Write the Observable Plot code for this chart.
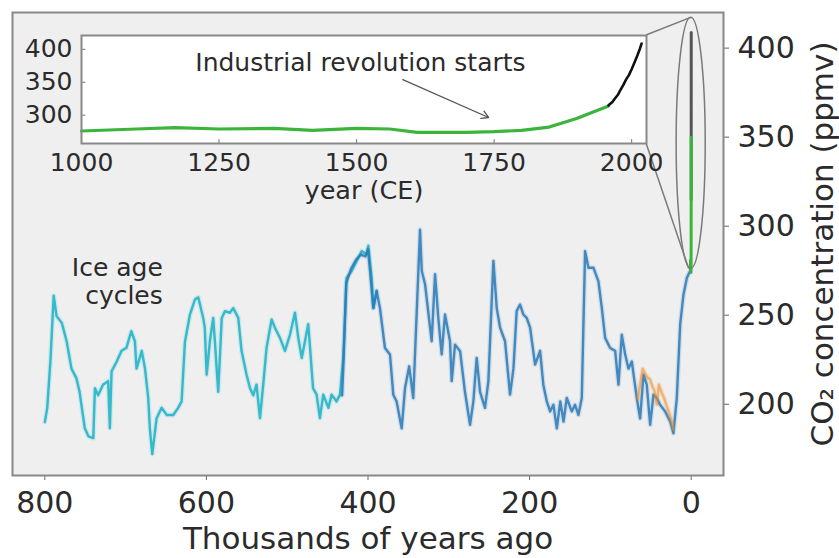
<!DOCTYPE html>
<html><head><meta charset="utf-8">
<script src="https://cdn.jsdelivr.net/npm/d3@7"></script>
<script src="https://cdn.jsdelivr.net/npm/@observablehq/plot@0.6"></script>
<style>
body{margin:0;background:#fff;}
#wrap{position:relative;width:839px;height:558px;}
#wrap svg{position:absolute;left:0;top:0;}
</style></head><body><div id="wrap"></div>
<script>
// ---- Data ----
// Ice core series, thousands of years ago vs CO2 (ppmv)
const cyanKa  = [800,797,793,789,785.5,779,773,767,761,757,750.5,746,740,738,734,728,721.6,719.5,717.4,711,705,699,693,688.5,686.5,680,676,672,670,667,661.7,655.5,649,641,635,630.7,626.6,620.4,614,610,604,602,599.7,595.7,591.6,589.5,585.4,581,577,571,566.8,560.6,556.5,550.3,546,542,538,533.7,529.7,525.6,519.3,515.2,509,502.8,496.6,490.4,486.3,482,478,474,472,468,463.6,459.5,455.4,449,445,439,434.7,430.6,426.5,420.2,414,407.8,401.7,399.6,395.5,393.4,389.3];
const cyanPpm = [190,198,225,261,249.5,245.7,235.4,220,214.7,207,186.5,182,181,209,205,211,213,186.5,218.5,224,230,231.7,241,235.4,220,230,220,203.5,186.5,172,192,198,194,194,198,201.6,235,250.4,259,260,248.5,243,216.6,235.4,248.5,235.4,207,248.5,252.3,251.4,254,248.5,230,216.6,209,205,211,192.2,211,231.6,247.6,243,237.3,230,239,251.4,237.3,226,235.4,245,233.5,209,205.4,192.2,205.4,198,205.4,201.6,205.4,226,271,274.9,280.5,286,284.3,289,271,254,263.6];

const blueKa  = [432,430,427,421,415,409,403,400,397.5,393.4,389.3,385.2,379,372.8,368.7,364.6,358.3,354.2,349,344,340,335.6,333.5,329.4,321.2,317,313,308.8,304.7,298.5,296.4,292.3,286,280,273.7,269.6,265.5,261.3,255.2,251,244.8,240.7,236.5,230.4,224.2,220,216,211.8,207.7,203.6,199.4,193.2,187,183,178.7,174.6,170.5,166.3,162,158,154,147.8,143.7,139.6,135.4,131.3,127.2,121,114.8,110.6,106.5,100.3,94.1,90,85.9,81.7,77.6,73.5,67.3,63.2,59,55,50.8,46.7,42.6,38.5,32.3,26,22,17.8,13.6,9.5,5.3,1.2];
const bluePpm = [205,228,268,276,281,284,283,287,275,254,263.6,254,231.6,227.9,205.4,201.6,186.5,209,221.3,203.5,248.5,298,275,267.4,235.4,273,248.5,228,250.4,235.4,213,233.5,229.8,207,188.5,201.6,226,207,198,213,280.5,254,243,235.4,205.4,220,252.3,256,250.4,248.5,243,222.3,230,211,201.6,196,199.7,186.5,201.6,190.3,203.5,196,199.7,194,203.5,286,276.7,276.7,269,254,237.3,231.6,230,211,239,227.9,220,224,203.5,192,216.6,211,188.5,205.4,203.5,199.7,196,190.3,183.7,203.5,245,261.7,271,275];

const orangeKa  = [66,63,60,57,54,51,48,45,42.5,40,37,34,31,28,25,22];
const orangePpm = [203,212,220,217,215,214,210,207,200,211,207,204,200,196,192,186];

// Law Dome (green) and Mauna Loa (black), year CE vs CO2 (ppmv)
const lawYear = [1000,1100,1170,1250,1350,1420,1500,1560,1610,1700,1750,1800,1850,1900,1958,1975,1988];
const lawPpm  = [276,279,281,279,280,277,280,279,274,274,275,277,282,295,314,331,350];
const maunaYear = [1958,1965,1970,1975,1980,1985,1990,1995,2000,2005,2010,2015,2018];
const maunaPpm  = [315,320,325.7,331,338.7,346,354.4,360.8,369.7,379.8,389.9,401,408.7];

const mainXTicks = [800,600,400,200,0];
const mainYTicks = [200,250,300,350,400];
const insetXTicks = [1000,1250,1500,1750,2000];
const insetYTicks = [300,350,400];

// ---- Tables ----
const zip = (xs, ys, kx, ky) => xs.map((v, i) => ({[kx]: v, [ky]: ys[i]}));
const cyan = zip(cyanKa, cyanPpm, "ka", "ppm");
const blue = zip(blueKa, bluePpm, "ka", "ppm");
const orange = zip(orangeKa, orangePpm, "ka", "ppm");
const law = zip(lawYear, lawPpm, "year", "ppm");
const mauna = zip(maunaYear, maunaPpm, "year", "ppm");
const toKa = d => ({ka: (1950 - d.year) / 1000, ppm: d.ppm});

const FONT = "DejaVu Sans";
const TXT = "#2b2b2b";
const plain = d => String(d);

// soft halo under each ice-core line + the line itself
const haloLine = (data, color, opacity) => [
  Plot.line(data, {x: "ka", y: "ppm", stroke: color, strokeWidth: 5, strokeOpacity: 0.15}),
  Plot.line(data, {x: "ka", y: "ppm", stroke: color, strokeWidth: 2.4, strokeOpacity: opacity})
];

const main = Plot.plot({
  width: 839, height: 558,
  marginLeft: 12, marginRight: 116, marginTop: 12, marginBottom: 83,
  style: {fontFamily: FONT, background: "white", color: TXT, overflow: "visible"},
  x: {domain: [840, -40], label: null},
  y: {domain: [160, 420], label: null},
  marks: [
    Plot.frame({fill: "#efefef"}),
    ...haloLine(cyan, "#22b5c8", 0.9),
    ...haloLine(blue, "#2a7ab8", 0.85),
    ...haloLine(orange, "#f08a2a", 0.55),
    Plot.line(mauna.map(toKa), {x: "ka", y: "ppm", stroke: "#555", strokeWidth: 3}),
    Plot.line(law.map(toKa), {x: "ka", y: "ppm", stroke: "#3cb43c", strokeWidth: 3}),
    Plot.text([{ka: 654, ppm: 269, t: "Ice age\ncycles"}], {x: "ka", y: "ppm", text: "t", textAnchor: "end", lineHeight: 1.12, fontSize: 25, fill: TXT}),
    Plot.axisX({ticks: mainXTicks, tickFormat: plain, tickSize: 5, tickPadding: 11, fontSize: 30, label: null, stroke: "#666"}),
    Plot.axisY({anchor: "right", ticks: mainYTicks, tickFormat: plain, tickSize: 5, tickPadding: 9, fontSize: 30, label: null, stroke: "#666"}),
    Plot.text(["Thousands of years ago"], {frameAnchor: "bottom", dy: 73, fontSize: 31, fill: TXT}),
    Plot.text(["CO₂ concentration (ppmv)"], {frameAnchor: "right", textAnchor: "middle", dx: 100, rotate: -90, fontSize: 31, fill: TXT}),
    Plot.frame({stroke: "#888", strokeWidth: 2})
  ]
});

const inset = Plot.plot({
  width: 700, height: 210,
  marginLeft: 81, marginTop: 35, marginRight: 54, marginBottom: 67,
  style: {fontFamily: FONT, background: "transparent", color: TXT, overflow: "visible"},
  x: {domain: [1000, 2027], label: null},
  y: {domain: [257, 421], label: null},
  marks: [
    Plot.frame({fill: "white"}),
    Plot.line(law.filter(d => d.year <= 1958), {x: "year", y: "ppm", stroke: "#3cb43c", strokeWidth: 3.2}),
    Plot.line(mauna, {x: "year", y: "ppm", stroke: "#111", strokeWidth: 2.6}),
    Plot.ruleY(insetYTicks, {x1: 1000, x2: 1008, stroke: "#777"}),
    Plot.ruleX(insetXTicks.slice(1), {y1: 257, y2: 263, stroke: "#777"}),
    Plot.axisX({ticks: insetXTicks, tickFormat: plain, tickSize: 0, tickPadding: 10, fontSize: 25, label: null}),
    Plot.axisY({ticks: insetYTicks, tickFormat: plain, tickSize: 0, tickPadding: 9, fontSize: 25, label: null}),
    Plot.text(["year (CE)"], {frameAnchor: "bottom", dy: 55, fontSize: 25.5, fill: TXT}),
    Plot.arrow([{x1: 1584, y1: 354, x2: 1740, y2: 296.5}], {x1: "x1", y1: "y1", x2: "x2", y2: "y2", stroke: "#555", strokeWidth: 1.3, headLength: 9}),
    Plot.text([{year: 1507, ppm: 380, t: "Industrial revolution starts"}], {x: "year", y: "ppm", text: "t", fontSize: 25, fill: TXT}),
    Plot.frame({stroke: "#888", strokeWidth: 2})
  ]
});

// ---- Zoom ellipse and connectors, positioned through the scales ----
function sc(plot, name) {
  const s = plot.scale(name);
  if (s.apply) return v => s.apply(v);
  return d3.scaleLinear(s.domain, s.range);
}
const mx = sc(main, "x"), my = sc(main, "y");
const ix = sc(inset, "x"), iy = sc(inset, "y");
const ell = {ka: 0, top: 417, bottom: 276, halfWidth: 18};
const cx = mx(ell.ka), rx = Math.abs(mx(ell.halfWidth) - mx(0));
const ty = my(ell.top), by = my(ell.bottom);
const g = d3.select(main).append("g").attr("fill", "none").attr("stroke", "#7a7a7a").attr("stroke-width", 1.5);
g.append("ellipse").attr("cx", cx).attr("cy", (ty + by) / 2).attr("rx", rx).attr("ry", (by - ty) / 2);
const xr = ix(2027);
g.append("line").attr("x1", xr).attr("y1", iy(421)).attr("x2", cx).attr("y2", ty);
g.append("line").attr("x1", xr).attr("y1", iy(257)).attr("x2", cx - 2).attr("y2", by);

const wrap = document.getElementById("wrap");
wrap.appendChild(main);
wrap.appendChild(inset);
</script></body></html>
